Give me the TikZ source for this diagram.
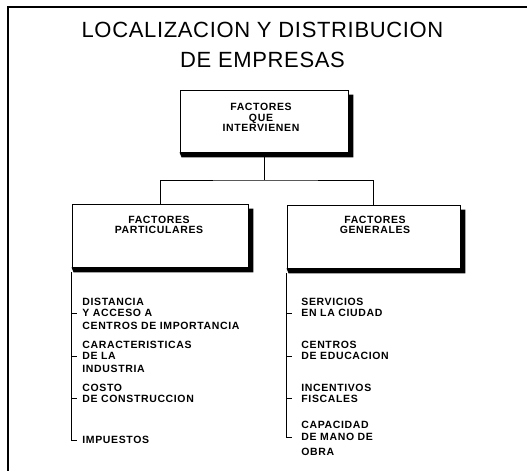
\documentclass[tikz,border=0pt]{standalone}
\usepackage{fontspec}
\setmainfont{Liberation Sans}
\newfontfamily\titlefam[LetterSpace=3]{Liberation Sans}
\newfontfamily\labfam[LetterSpace=6]{Liberation Sans}
\newcommand\shadowit[1]{%
  \fill ([yshift=-5pt]#1.north east) -- ++(5,0) |- ([xshift=2pt,yshift=-5pt]#1.south west)
        -- (#1.south west) -- (#1.south east) -- cycle;}
\begin{document}
\begin{tikzpicture}[x=1pt,y=1pt,
  line width=0.9pt,
  box/.style={draw, line width=0.9pt, inner sep=0pt},
  titletext/.style={inner sep=0pt, font=\titlefam\fontsize{22}{26}\selectfont, text height=15.8pt, text depth=0pt},
  boxtext/.style={inner sep=0pt, align=center, font=\labfam\bfseries\fontsize{10.5}{10.5}\selectfont},
  itemtext/.style={anchor=west, inner sep=0pt, font=\labfam\bfseries\fontsize{10.5}{12.5}\selectfont, text height=7.5pt, text depth=0pt},
  tick/.style={line width=1pt}]
\useasboundingbox (0,0) rectangle (527,-471);
% frame (top and left edges only)
\coordinate (fa) at (527,-7);
\coordinate (fb) at (8,-7);
\coordinate (fc) at (8,-471);
\draw[line width=1.2pt] (fa) -- (fb) -- (fc);
% title
\node[titletext] (title1) at (262.5,-30) {LOCALIZACION Y DISTRIBUCION};
\node[titletext] (title2) at (262.5,-60) {DE EMPRESAS};
% boxes
\node[box, minimum width=168pt, minimum height=62pt] (top) at (264,-121) {};
\node[box, minimum width=176pt, minimum height=63pt] (pl) at (160,-235.5) {};
\node[box, minimum width=173pt, minimum height=63pt] (gl) at (373.5,-236.5) {};
\shadowit{top}
\shadowit{pl}
\shadowit{gl}
\node[boxtext] (toptxt) at (261,-117.5) {FACTORES\\QUE\\INTERVIENEN};
\node[boxtext] (pltxt) at (159,-225) {FACTORES\\PARTICULARES};
\node[boxtext] (gltxt) at (375,-225) {FACTORES\\GENERALES};
% connectors
\coordinate (jn) at (264,-180);
\draw ([yshift=-5pt]top.south) -- (jn);
\draw (pl.north) |- (jn) -| (gl.north);
% left list
\node[itemtext] (d1) at (82,-302) {DISTANCIA};
\node[itemtext] (d2) at (82,-313) {Y ACCESO A};
\node[itemtext] (d3) at (82,-326) {CENTROS DE IMPORTANCIA};
\node[itemtext] (e1) at (82,-345) {CARACTERISTICAS};
\node[itemtext] (e2) at (82,-356) {DE LA};
\node[itemtext] (e3) at (82,-369) {INDUSTRIA};
\node[itemtext] (f1) at (82,-388) {COSTO};
\node[itemtext] (f2) at (82,-398.5) {DE CONSTRUCCION};
\node[itemtext] (g1) at (82,-440) {IMPUESTOS};
\coordinate (plb) at ([yshift=-5pt]pl.south west);
\coordinate (plt) at ([xshift=-5pt]g1.west);
\draw (plb) -- (plb |- plt) -- (plt);
\draw[tick] (plb |- d2.west) -- ([xshift=-5pt]d2.west);
\draw[tick] (plb |- e2.west) -- ([xshift=-5pt]e2.west);
\draw[tick] (plb |- f2.west) -- ([xshift=-5pt]f2.west);
% right list
\node[itemtext] (s1) at (301,-302) {SERVICIOS};
\node[itemtext] (s2) at (301,-313) {EN LA CIUDAD};
\node[itemtext] (c1) at (301,-345) {CENTROS};
\node[itemtext] (c2) at (301,-356) {DE EDUCACION};
\node[itemtext] (i1) at (301,-388) {INCENTIVOS};
\node[itemtext] (i2) at (301,-398.5) {FISCALES};
\node[itemtext] (m1) at (301,-425) {CAPACIDAD};
\node[itemtext] (m2) at (301,-437) {DE MANO DE};
\node[itemtext] (m3) at (301,-452) {OBRA};
\coordinate (glb) at ([yshift=-5pt]gl.south west);
\coordinate (glt) at ([xshift=-9pt]m2.west);
\draw (glb) -- (glb |- glt) -- (glt);
\draw[tick] (glb |- s2.west) -- ([xshift=-9pt]s2.west);
\draw[tick] (glb |- c2.west) -- ([xshift=-9pt]c2.west);
\draw[tick] (glb |- i2.west) -- ([xshift=-9pt]i2.west);
\end{tikzpicture}
\end{document}
